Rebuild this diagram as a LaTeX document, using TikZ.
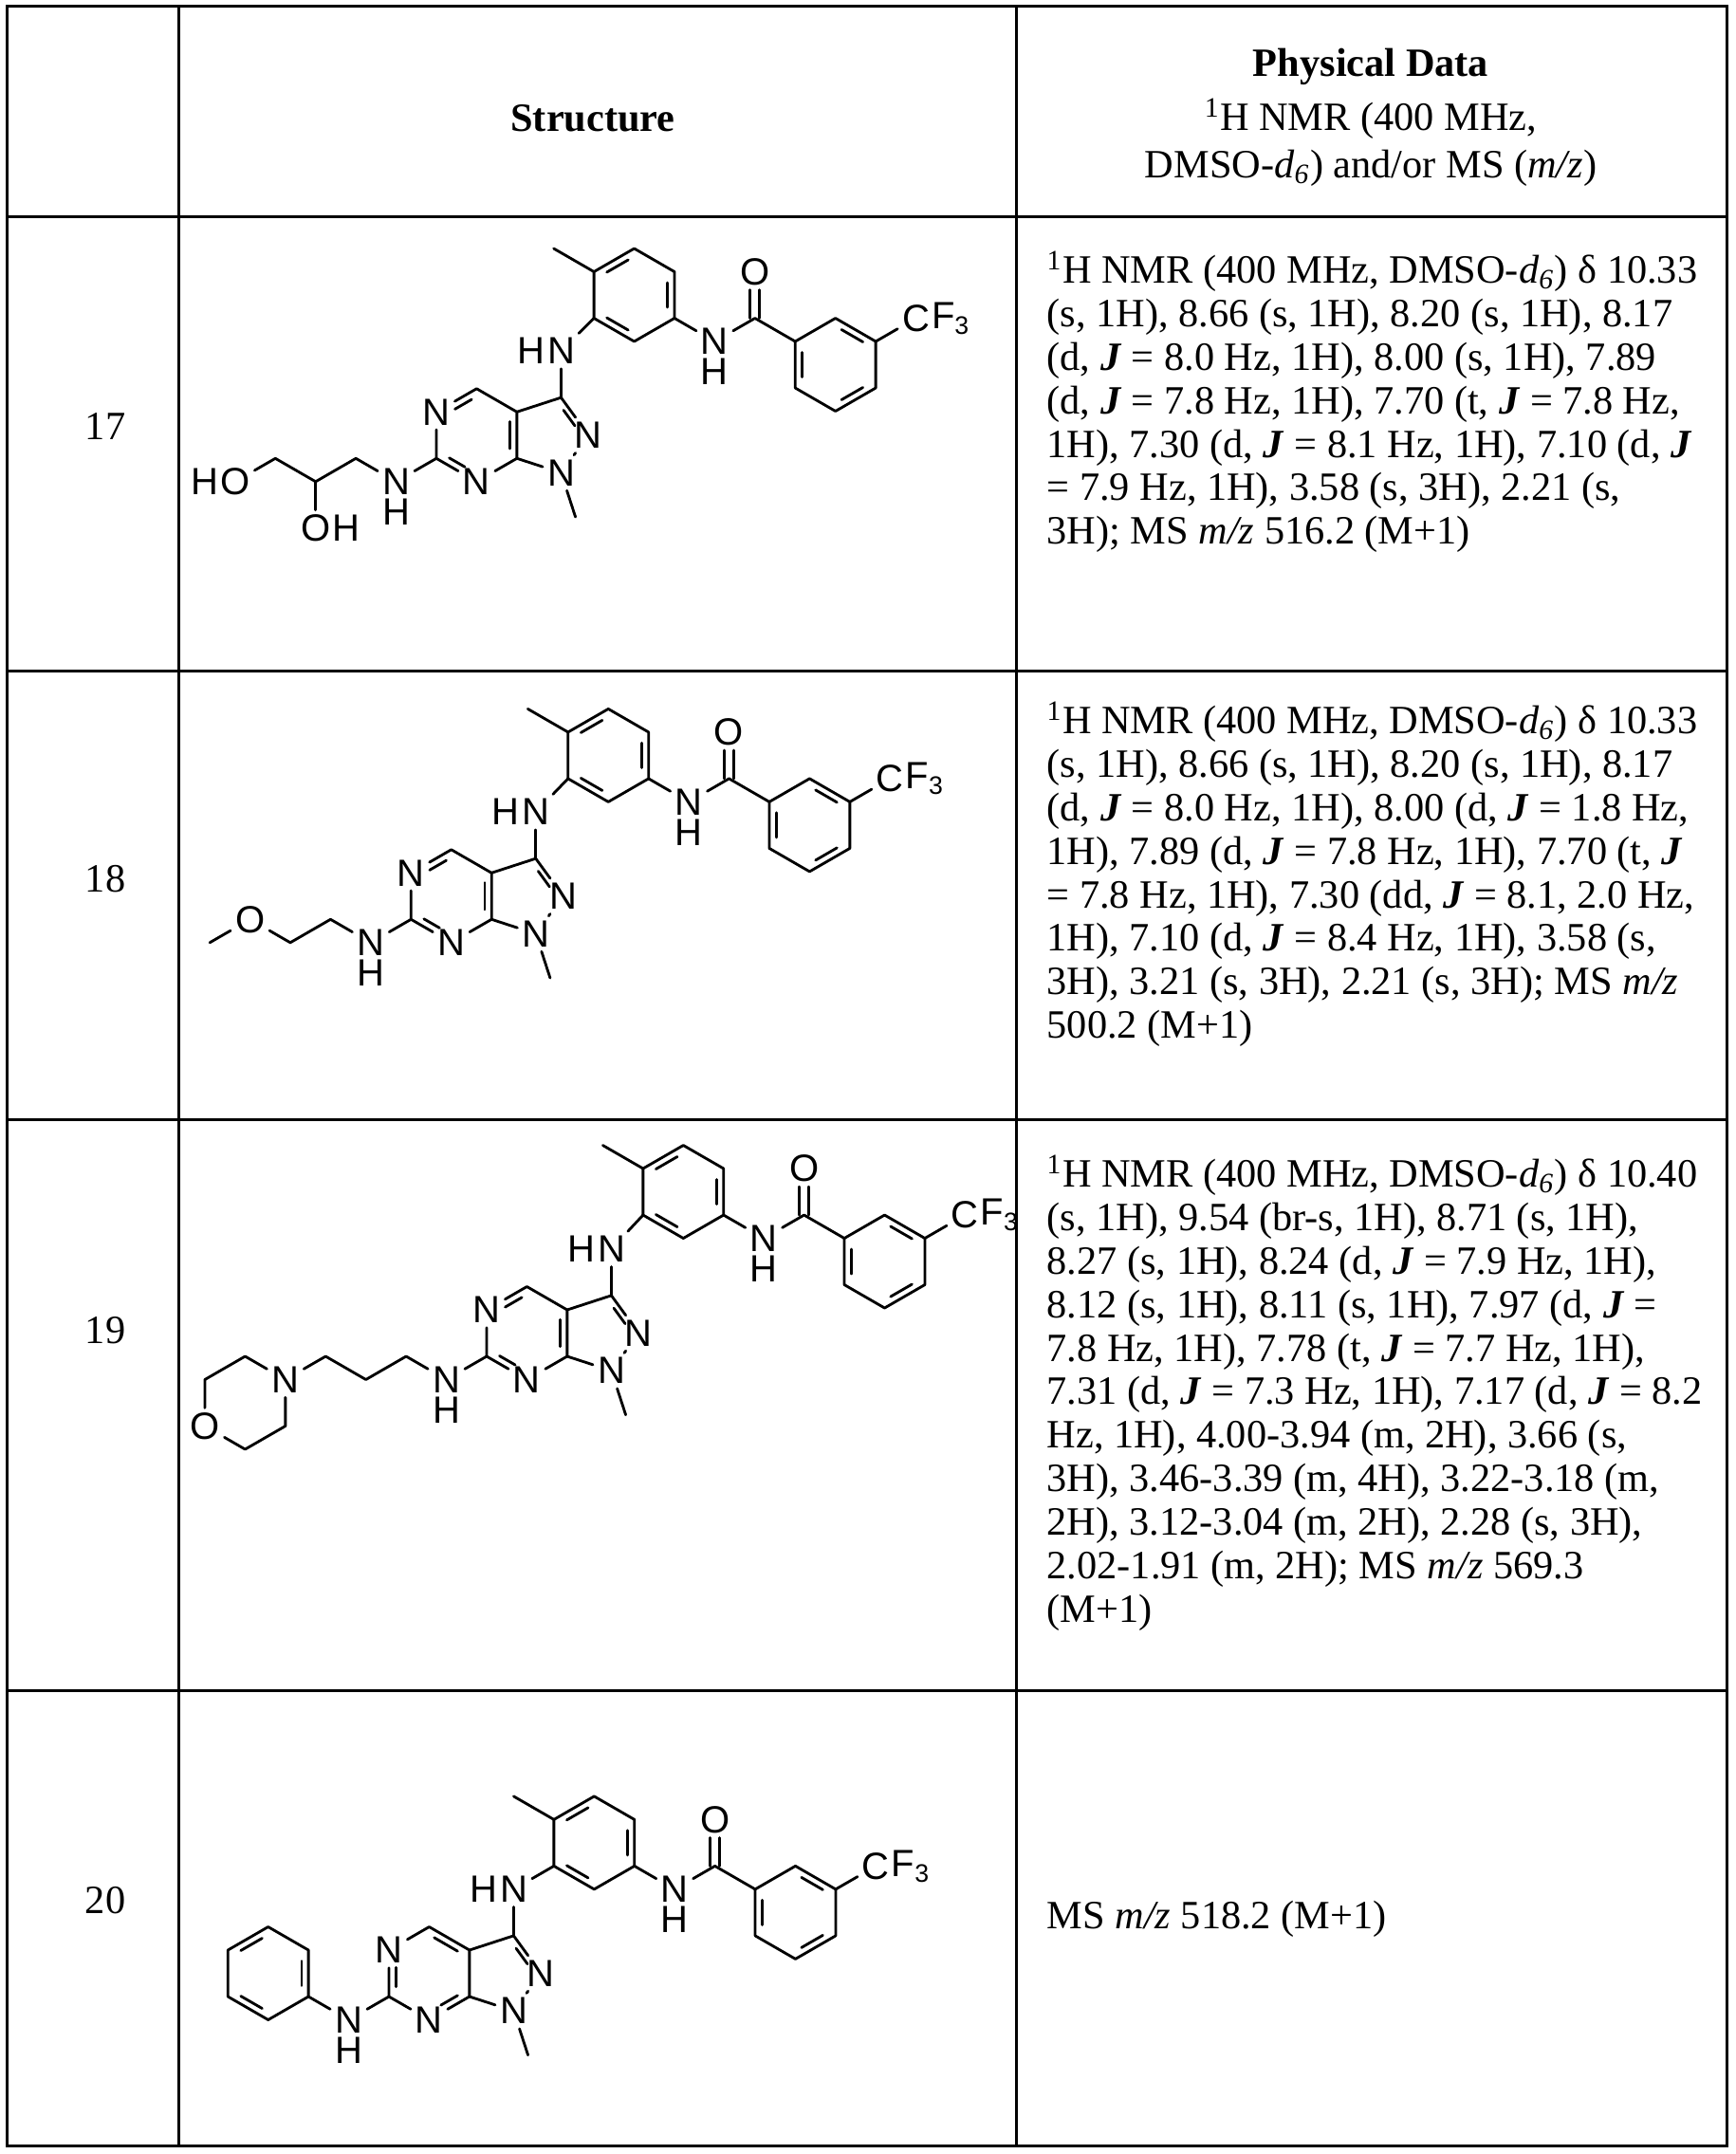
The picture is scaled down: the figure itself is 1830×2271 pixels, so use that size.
\documentclass[tikz,border=0pt]{standalone}
\usepackage{fontspec}
\setmainfont{Liberation Serif}
\newfontfamily\chemf{Liberation Sans}
\usetikzlibrary{calc}
\tikzset{
 atom/.style={font=\chemf\fontsize{12}{12}\selectfont, inner sep=1.3pt},
 hat/.style={atom, inner sep=0pt},
 bond/.style={line width=0.85pt, line cap=round, line join=round},
 tbl/.style={line width=0.9pt},
 txt/.style={anchor=north west, align=left, inner sep=0, font=\fontsize{12.7}{13.75}\selectfont},
 hdr/.style={align=center, inner sep=0, font=\fontsize{12.7}{13.75}\selectfont},
}
\newcommand\dbl[5]{\draw[bond] ($($(#1)!#4!(#2)$)!0.17!(#3)$) -- ($($(#1)!#5!(#2)$)!0.17!(#3)$);}
\newcommand\Jx{\textbf{\textit{J}}}
\newcommand\mz{\textit{m/z}}
\newcommand\dmso{DMSO-\textit{d}\textsubscript{\textit{6}})}
\newcommand\mcore[1]{%
 \node[atom] (n5) at (0,1) {N};
 \coordinate (c4) at (0.866,1.5);
 \coordinate (c4a) at (1.732,1);
 \coordinate (c7a) at (1.732,0);
 \node[atom] (n7) at (0.866,-0.5) {N};
 \coordinate (c6) at (0,0);
 \coordinate (pc) at (0.866,0.5);
 \coordinate (zc) at (2.420,0.5);
 \coordinate (c3) at (2.683,1.309);
 \node[atom] (n2) at (3.271,0.5) {N};
 \node[atom] (n1) at (2.683,-0.309) {N};
 \coordinate (me1) at (2.992,-1.260);
 \node[atom] (nha) at (2.683,2.309) {N};
 \node[hat,anchor=east] (hha) at ([xshift=0.9pt]nha.west) {H};
 \coordinate (tll) at ($(nha)+(#1:1)$);
 \coordinate (tc) at ($(tll)+(0.866,0.5)$);
 \coordinate (tt) at ($(tc)+(0,1)$);
 \coordinate (tur) at ($(tc)+(0.866,0.5)$);
 \coordinate (tlr) at ($(tc)+(0.866,-0.5)$);
 \coordinate (tb) at ($(tc)+(0,-1)$);
 \coordinate (tul) at ($(tc)+(-0.866,0.5)$);
 \coordinate (me2) at ($(tul)+(-0.866,0.5)$);
 \node[atom] (nam) at ($(tc)+(1.732,-1)$) {N};
 \node[hat,anchor=north] (ham) at ([yshift=0.3pt]nam.south) {H};
 \coordinate (cco) at ($(tc)+(2.598,-0.5)$);
 \node[atom] (oo) at ($(tc)+(2.598,0.5)$) {O};
 \coordinate (bc) at ($(tc)+(4.330,-1.5)$);
 \coordinate (bul) at ($(bc)+(-0.866,0.5)$);
 \coordinate (bt) at ($(bc)+(0,1)$);
 \coordinate (bur) at ($(bc)+(0.866,0.5)$);
 \coordinate (blr) at ($(bc)+(0.866,-0.5)$);
 \coordinate (bb) at ($(bc)+(0,-1)$);
 \coordinate (bll) at ($(bc)+(-0.866,-0.5)$);
 \node[atom] (cf) at ($(bc)+(1.732,1)$) {C};
 \node[hat,anchor=west] (ff) at ([xshift=-1.1pt]cf.east) {F\textsubscript{3}};
 \draw[bond] (n5)--(c4)--(c4a)--(c7a)--(n7)--(c6)--(n5);
 \draw[bond] (c4a)--(c3)--(n2)--(n1)--(c7a);
 \draw[bond] (n1)--(me1);
 \draw[bond] (c3)--(nha);
 \draw[bond] (nha)--(tll);
 \draw[bond] (tll)--(tul)--(tt)--(tur)--(tlr)--(tb)--cycle;
 \draw[bond] (tul)--(me2);
 \draw[bond] (tlr)--(nam)--(cco)--(bul);
 \draw[bond] ([xshift=-1.5pt]cco) -- ([xshift=-1.5pt]oo.south);
 \draw[bond] ([xshift=1.5pt]cco) -- ([xshift=1.5pt]oo.south);
 \draw[bond] (bul)--(bt)--(bur)--(blr)--(bb)--(bll)--cycle;
 \draw[bond] (bur)--(cf);
 \dbl{c3}{n2}{zc}{0.2}{0.7}
 \dbl{tul}{tt}{tc}{0.18}{0.82}
 \dbl{tur}{tlr}{tc}{0.18}{0.82}
 \dbl{tll}{tb}{tc}{0.18}{0.82}
 \dbl{bul}{bll}{bc}{0.18}{0.82}
 \dbl{bt}{bur}{bc}{0.18}{0.82}
 \dbl{bb}{blr}{bc}{0.18}{0.82}
 \node[atom] (nhb) at (-0.866,-0.5) {N};
 \node[hat,anchor=north] (hhb) at ([yshift=0.3pt]nhb.south) {H};
 \draw[bond] (c6)--(nhb);
}
\newcommand\pyrA{\dbl{n5}{c4}{pc}{0.35}{0.85}\dbl{c4a}{c7a}{pc}{0.15}{0.85}\dbl{c6}{n7}{pc}{0.18}{0.65}}
\newcommand\pyrB{\dbl{n5}{c6}{pc}{0.35}{0.85}\dbl{c4}{c4a}{pc}{0.15}{0.85}\dbl{c7a}{n7}{pc}{0.15}{0.65}}
\begin{document}
\begin{tikzpicture}[x=0.3pt,y=-0.3pt]
\useasboundingbox (0,0) rectangle (1830,2271);
% table
\draw[tbl] (7,7) rectangle (1820,2262);
\draw[tbl] (188,7) -- (188,2262);
\draw[tbl] (1071,7) -- (1071,2262);
\foreach \yy in {229,707,1180,1782} \draw[tbl] (7,\yy) -- (1820,\yy);
% header
\node[hdr,font=\bfseries\fontsize{12.7}{13.75}\selectfont] (hs) at (625,125) {Structure};
\node[hdr,font=\bfseries\fontsize{12.7}{13.75}\selectfont] (hp1) at (1445,70) {Physical Data};
\node[hdr] (hp2) at (1445,125) {\textsuperscript{1}H NMR (400 MHz,};
\node[hdr] (hp3) at (1445,177) {\dmso{} and/or MS (\mz)};
% numbers
\node[hdr] (r17) at (111,450) {17};
\node[hdr] (r18) at (111,927) {18};
\node[hdr] (r19) at (111,1403) {19};
\node[hdr] (r20) at (111,2004) {20};
% texts
\node[txt] (t17) at (1103,264) {\textsuperscript{1}H NMR (400 MHz, \dmso{} δ 10.33\\
(s, 1H), 8.66 (s, 1H), 8.20 (s, 1H), 8.17\\
(d, \Jx{} = 8.0 Hz, 1H), 8.00 (s, 1H), 7.89\\
(d, \Jx{} = 7.8 Hz, 1H), 7.70 (t, \Jx{} = 7.8 Hz,\\
1H), 7.30 (d, \Jx{} = 8.1 Hz, 1H), 7.10 (d, \Jx\\
= 7.9 Hz, 1H), 3.58 (s, 3H), 2.21 (s,\\
3H); MS \mz{} 516.2 (M+1)};
\node[txt] (t18) at (1103,739) {\textsuperscript{1}H NMR (400 MHz, \dmso{} δ 10.33\\
(s, 1H), 8.66 (s, 1H), 8.20 (s, 1H), 8.17\\
(d, \Jx{} = 8.0 Hz, 1H), 8.00 (d, \Jx{} = 1.8 Hz,\\
1H), 7.89 (d, \Jx{} = 7.8 Hz, 1H), 7.70 (t, \Jx\\
= 7.8 Hz, 1H), 7.30 (dd, \Jx{} = 8.1, 2.0 Hz,\\
1H), 7.10 (d, \Jx{} = 8.4 Hz, 1H), 3.58 (s,\\
3H), 3.21 (s, 3H), 2.21 (s, 3H); MS \mz\\
500.2 (M+1)};
\node[txt] (t19) at (1103,1217) {\textsuperscript{1}H NMR (400 MHz, \dmso{} δ 10.40\\
(s, 1H), 9.54 (br-s, 1H), 8.71 (s, 1H),\\
8.27 (s, 1H), 8.24 (d, \Jx{} = 7.9 Hz, 1H),\\
8.12 (s, 1H), 8.11 (s, 1H), 7.97 (d, \Jx{} =\\
7.8 Hz, 1H), 7.78 (t, \Jx{} = 7.7 Hz, 1H),\\
7.31 (d, \Jx{} = 7.3 Hz, 1H), 7.17 (d, \Jx{} = 8.2\\
Hz, 1H), 4.00-3.94 (m, 2H), 3.66 (s,\\
3H), 3.46-3.39 (m, 4H), 3.22-3.18 (m,\\
2H), 3.12-3.04 (m, 2H), 2.28 (s, 3H),\\
2.02-1.91 (m, 2H); MS \mz{} 569.3\\
(M+1)};
\node[txt] (t20) at (1103,2003) {MS \mz{} 518.2 (M+1)};
% row 17
\begin{scope}[shift={(460,483.3)}]\begin{scope}[x=14.7pt,y=14.7pt]
 \mcore{45}\pyrA
 \coordinate (k1) at (-1.732,0); \coordinate (k2) at (-2.598,-0.5); \coordinate (k3) at (-3.464,0);
 \node[atom] (ho) at (-4.330,-0.5) {O}; \node[hat,anchor=east] (hho) at ([xshift=1.1pt]ho.west) {H};
 \node[atom] (oh) at (-2.598,-1.5) {O}; \node[hat,anchor=west] (hoh) at ([xshift=-1.1pt]oh.east) {H};
 \draw[bond] (nhb)--(k1)--(k2)--(k3)--(ho);
 \draw[bond] (k2)--(oh);
\end{scope}\end{scope}
% row 18
\begin{scope}[shift={(433.3,969.3)}]\begin{scope}[x=14.7pt,y=14.7pt]
 \mcore{46}\pyrA
 \coordinate (k1) at (-1.732,0); \coordinate (k2) at (-2.598,-0.5);
 \node[atom] (om) at (-3.464,0) {O}; \coordinate (k3) at (-4.330,-0.5);
 \draw[bond] (nhb)--(k1)--(k2)--(om)--(k3);
\end{scope}\end{scope}
% row 19
\begin{scope}[shift={(513,1430)}]\begin{scope}[x=14.7pt,y=14.7pt]
 \mcore{47}\pyrA
 \coordinate (k1) at (-1.732,0); \coordinate (k2) at (-2.598,-0.5); \coordinate (k3) at (-3.464,0);
 \node[atom] (nm) at (-4.330,-0.5) {N};
 \coordinate (m1) at (-5.196,0); \coordinate (m2) at (-6.062,-0.5);
 \node[atom] (om) at (-6.062,-1.5) {O};
 \coordinate (m4) at (-5.196,-2); \coordinate (m5) at (-4.330,-1.5);
 \draw[bond] (nhb)--(k1)--(k2)--(k3)--(nm);
 \draw[bond] (nm)--(m1)--(m2)--(om)--(m4)--(m5)--(nm);
\end{scope}\end{scope}
% row 20
\begin{scope}[shift={(410,2105)}]\begin{scope}[x=14.7pt,y=14.7pt]
 \mcore{30}\pyrB
 \coordinate (pcn) at (-2.598,0.5);
 \coordinate (plr) at (-1.732,0); \coordinate (pur) at (-1.732,1); \coordinate (pt) at (-2.598,1.5);
 \coordinate (pul) at (-3.464,1); \coordinate (pll) at (-3.464,0); \coordinate (pb) at (-2.598,-0.5);
 \draw[bond] (nhb)--(plr);
 \draw[bond] (plr)--(pur)--(pt)--(pul)--(pll)--(pb)--cycle;
 \dbl{pul}{pt}{pcn}{0.18}{0.82}
 \dbl{pur}{plr}{pcn}{0.18}{0.82}
 \dbl{pll}{pb}{pcn}{0.18}{0.82}
\end{scope}\end{scope}
\end{tikzpicture}
\end{document}
